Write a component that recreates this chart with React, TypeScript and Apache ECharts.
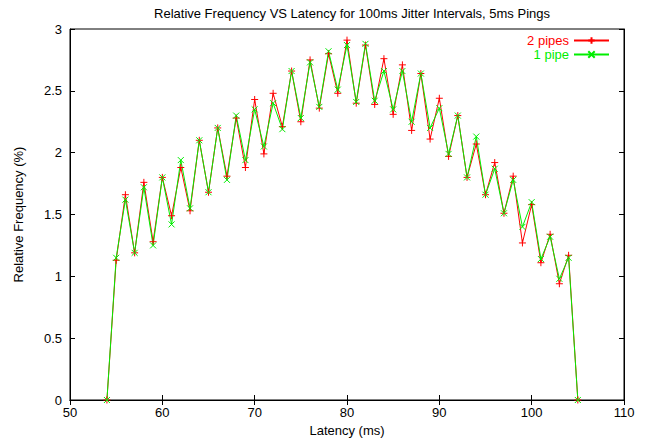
import React, { useEffect, useRef } from "react";
import * as echarts from "echarts";

const latency = [54,55,56,57,58,59,60,61,62,63,64,65,66,67,68,69,70,71,72,73,74,75,76,77,78,79,80,81,82,83,84,85,86,87,88,89,90,91,92,93,94,95,96,97,98,99,100,101,102,103,104,105];
const twoPipes = [0,1.13,1.66,1.19,1.76,1.28,1.80,1.49,1.88,1.53,2.10,1.68,2.20,1.81,2.28,1.88,2.43,1.99,2.48,2.21,2.66,2.25,2.75,2.36,2.80,2.48,2.91,2.40,2.87,2.39,2.76,2.31,2.71,2.18,2.64,2.11,2.44,1.97,2.30,1.80,2.07,1.66,1.92,1.51,1.81,1.27,1.58,1.11,1.34,0.94,1.17,0];
const onePipe = [0,1.15,1.62,1.19,1.72,1.25,1.80,1.42,1.94,1.55,2.10,1.68,2.20,1.78,2.30,1.94,2.35,2.05,2.40,2.19,2.66,2.28,2.73,2.37,2.82,2.51,2.87,2.41,2.88,2.42,2.66,2.35,2.66,2.25,2.64,2.20,2.36,1.99,2.30,1.80,2.13,1.66,1.87,1.51,1.78,1.40,1.60,1.14,1.32,0.98,1.15,0];

const FONT = "Liberation Sans, Arial, Helvetica, sans-serif";
const FS = 13;
const RED = "#ff0000";
const GREEN = "#00ee00";

export default function App() {
  const ref = useRef<HTMLDivElement>(null);
  useEffect(() => {
    document.body.style.margin = "0";
    const chart = echarts.init(ref.current!, null, { renderer: "svg" });
    const axisCommon = {
      axisLine: { show: true, lineStyle: { color: "#000", width: 1 } },
      axisTick: { show: true, inside: true, length: 5, lineStyle: { color: "#000" } },
      splitLine: { show: false },
    };
    chart.setOption({
      animation: false,
      backgroundColor: "#fff",
      textStyle: { fontFamily: FONT },
      title: {
        text: "Relative Frequency VS Latency for 100ms Jitter Intervals, 5ms Pings",
        left: 347,
        top: 2,
        textAlign: "center",
        textStyle: { fontSize: FS, fontWeight: "normal", color: "#000", fontFamily: FONT },
      },
      grid: { left: 70, right: 25, top: 29, bottom: 40, show: true, borderColor: "#000", borderWidth: 1 },
      legend: {
        orient: "vertical",
        right: 39,
        top: 34,
        padding: 0,
        itemGap: 1,
        itemWidth: 35,
        itemHeight: 8,
        align: "right",
        textStyle: { fontSize: FS, fontFamily: FONT },
        data: [
          { name: "2 pipes", textStyle: { color: RED } },
          { name: "1 pipe", textStyle: { color: GREEN } },
        ],
      },
      xAxis: [
        {
          type: "value",
          min: 50,
          max: 110,
          interval: 10,
          name: "Latency (ms)",
          nameLocation: "middle",
          nameGap: 24,
          nameTextStyle: { fontSize: FS, color: "#000", fontFamily: FONT },
          axisLabel: { color: "#000", fontSize: FS, margin: 6, fontFamily: FONT },
          ...axisCommon,
        },
        {
          type: "value",
          position: "top",
          min: 50,
          max: 110,
          interval: 10,
          axisLabel: { show: false },
          ...axisCommon,
        },
      ],
      yAxis: [
        {
          type: "value",
          min: 0,
          max: 3,
          interval: 0.5,
          name: "Relative Frequency (%)",
          nameLocation: "middle",
          nameGap: 45,
          nameTextStyle: { fontSize: FS, color: "#000", fontFamily: FONT },
          axisLabel: { color: "#000", fontSize: FS, margin: 8, fontFamily: FONT },
          ...axisCommon,
        },
        {
          type: "value",
          position: "right",
          min: 0,
          max: 3,
          interval: 0.5,
          axisLabel: { show: false },
          ...axisCommon,
        },
      ],
      series: [
        {
          name: "2 pipes",
          type: "line",
          data: latency.map((x, i) => [x, twoPipes[i]]),
          symbol: "path://M5,0L5,10M0,5L10,5",
          symbolSize: 7,
          showAllSymbol: true,
          lineStyle: { color: RED, width: 1 },
          itemStyle: { color: RED, borderColor: RED, borderWidth: 1 },
        },
        {
          name: "1 pipe",
          type: "line",
          data: latency.map((x, i) => [x, onePipe[i]]),
          symbol: "path://M0,0L10,10M10,0L0,10",
          symbolSize: 6,
          showAllSymbol: true,
          lineStyle: { color: GREEN, width: 1 },
          itemStyle: { color: GREEN, borderColor: GREEN, borderWidth: 1 },
        },
      ],
    });
    return () => chart.dispose();
  }, []);
  return <div ref={ref} style={{ width: 649, height: 442 }} />;
}
